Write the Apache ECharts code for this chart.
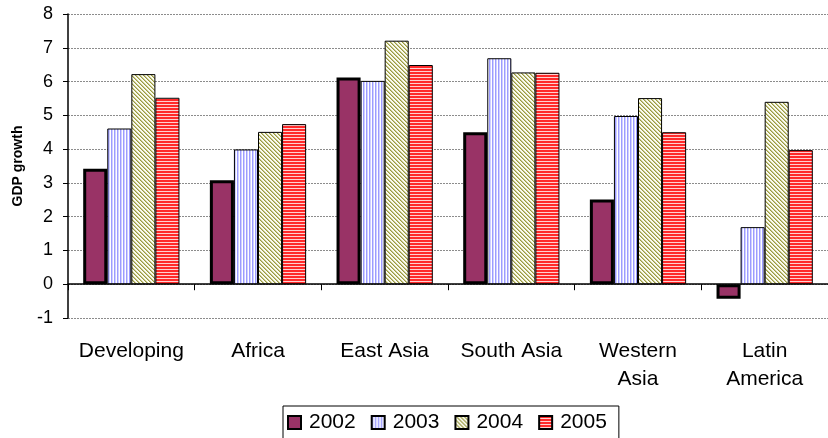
<!DOCTYPE html>
<html>
<head>
<meta charset="utf-8">
<script src="https://cdn.jsdelivr.net/npm/echarts@6/dist/echarts.min.js"></script>
<style>
html,body{margin:0;padding:0;background:#fff;}
#chart{width:828px;height:438px;}
</style>
</head>
<body>
<div id="chart"></div>
<script>
var categories = ['Developing', 'Africa', 'East Asia', 'South Asia', 'Western\nAsia', 'Latin\nAmerica'];
var seriesNames = ['2002', '2003', '2004', '2005'];
var v2002 = [3.42, 3.08, 6.12, 4.50, 2.51, -0.43];
var v2003 = [4.61, 3.99, 6.02, 6.69, 4.98, 1.69];
var v2004 = [6.22, 4.51, 7.21, 6.27, 5.51, 5.40];
var v2005 = [5.52, 4.74, 6.49, 6.26, 4.50, 3.97];
var yTicks = [-1, 0, 1, 2, 3, 4, 5, 6, 7, 8];

function makePattern(w, h, draw) {
  var c = document.createElement('canvas');
  c.width = w; c.height = h;
  var ctx = c.getContext('2d');
  draw(ctx, w, h);
  return { image: c, repeat: 'repeat' };
}
var pat2003 = makePattern(3, 3, function (ctx, w, h) {
  ctx.fillStyle = '#ffffff'; ctx.fillRect(0, 0, w, h);
  ctx.fillStyle = '#9c9cff'; ctx.fillRect(0, 0, 1, h);
  ctx.fillStyle = '#d0d0ff'; ctx.fillRect(1, 0, 1, h);
});
var pat2004 = makePattern(4, 4, function (ctx, w, h) {
  ctx.fillStyle = '#fbfbf0'; ctx.fillRect(0, 0, w, h);
  ctx.fillStyle = '#9a9a40';
  for (var i = 0; i < 4; i++) { ctx.fillRect(i, i, 1, 1); }
  ctx.fillStyle = '#c8c890';
  for (var j = 0; j < 4; j++) { ctx.fillRect((j + 1) % 4, j, 1, 1); }
});
var pat2005 = makePattern(3, 3, function (ctx, w, h) {
  ctx.fillStyle = '#ff2a2a'; ctx.fillRect(0, 0, w, h);
  ctx.fillStyle = '#ffd0d0'; ctx.fillRect(0, 2, w, 1);
});

var chart = echarts.init(document.getElementById('chart'), null, { renderer: 'canvas' });
var font = 'Liberation Sans, Arial, sans-serif';
var dataArrays = [v2002, v2003, v2004, v2005];
var styles = [
  { color: '#993366', borderColor: '#000', borderWidth: 3 },
  { color: pat2003, borderColor: '#000', borderWidth: 1 },
  { color: pat2004, borderColor: '#000', borderWidth: 1 },
  { color: pat2005, borderColor: '#000', borderWidth: 1 }
];
var series = seriesNames.map(function (n, i) {
  return {
    name: n, type: 'bar', xAxisIndex: 0, yAxisIndex: 0,
    data: dataArrays[i],
    barGap: '0%', barCategoryGap: '24%',
    itemStyle: styles[i],
    emphasis: { disabled: true },
    animation: false
  };
});

chart.setOption({
  animation: false,
  textStyle: { fontFamily: font },
  grid: { left: 68, right: 0, top: 14, bottom: 120, containLabel: false },
  legend: {
    data: seriesNames,
    left: 283, top: 406,
    orient: 'horizontal',
    borderColor: '#000', borderWidth: 1,
    padding: [6, 12, 7, 4],
    itemWidth: 13, itemHeight: 13, itemGap: 15,
    icon: 'rect',
    textStyle: { fontSize: 21, color: '#000', fontFamily: font, padding: [0, 0, 0, 3] }
  },
  xAxis: [
    {
      type: 'category', data: categories, position: 'top', gridIndex: 0,
      axisLine: { show: true, onZero: true, lineStyle: { color: '#000', width: 1.5 } },
      axisTick: { show: true, inside: true, length: 6, alignWithLabel: false, lineStyle: { color: '#000', width: 1 } },
      axisLabel: { show: false },
      splitLine: { show: false }
    },
    {
      type: 'category', data: categories, position: 'bottom', gridIndex: 0,
      axisLine: { show: false, onZero: false },
      axisTick: { show: false },
      axisLabel: { show: true, fontSize: 21, lineHeight: 28, margin: 19, color: '#000', fontFamily: font, interval: 0 },
      splitLine: { show: false }
    }
  ],
  yAxis: {
    type: 'value', min: yTicks[0], max: yTicks[yTicks.length - 1], interval: 1,
    name: 'GDP growth', nameLocation: 'middle', nameRotate: 90, nameGap: 43,
    nameTextStyle: { fontSize: 14, fontWeight: 'bold', color: '#000', fontFamily: font },
    axisLine: { show: true, lineStyle: { color: '#000', width: 1.5 } },
    axisTick: { show: true, length: 5, lineStyle: { color: '#000' } },
    axisLabel: { fontSize: 18, color: '#000', margin: 15, fontFamily: font },
    splitLine: { show: true, lineStyle: { color: '#8c8c8c', type: [2, 1], width: 1 } }
  },
  series: series
});
</script>
</body>
</html>
